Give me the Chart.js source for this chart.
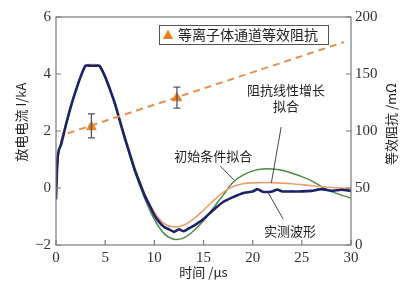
<!DOCTYPE html>
<html>
<head>
<meta charset="utf-8">
<script src="https://cdn.jsdelivr.net/npm/chart.js@4.4.1/dist/chart.umd.min.js"></script>
<style>
  html, body { margin: 0; padding: 0; background: #fff; }
  #wrap { width: 400px; height: 286px; }
</style>
</head>
<body>
<div id="wrap"><canvas id="arcChart" width="400" height="286"></canvas></div>
<script>
const tMeas = [0, 0.15, 0.3, 0.5, 1, 1.5, 2, 2.5, 3, 3.5, 4, 4.4, 5, 5.5, 6, 6.5, 7, 7.5, 8, 8.5, 9, 9.5, 10, 10.5, 11, 11.5, 12, 12.5, 13, 13.5, 14, 15, 16, 17, 18, 19, 20, 20.5, 21, 22, 22.5, 23, 24, 25, 26, 27, 28, 29, 30];
const iMeas = [-0.4, 1.0, 1.35, 1.5, 2.2, 2.85, 3.4, 3.9, 4.29, 4.29, 4.29, 4.29, 3.9, 3.45, 2.95, 2.35, 1.75, 1.2, 0.65, 0.2, -0.25, -0.6, -0.95, -1.2, -1.37, -1.45, -1.54, -1.45, -1.52, -1.42, -1.33, -1.09, -0.77, -0.49, -0.32, -0.18, -0.12, -0.04, -0.13, -0.12, -0.05, -0.12, -0.12, -0.12, -0.1, -0.04, -0.1, -0.06, -0.1];

// Fit mit linear wachsender Impedanz
const tLin = [0, 0.3, 1, 2, 3, 3.5, 4, 4.5, 5, 6, 7, 8, 9, 10, 11, 12, 13, 14, 15, 16, 17, 18, 19, 20, 22, 24, 26, 28, 30];
const iLin = [0, 1.3, 2.25, 3.42, 4.3, 4.33, 4.33, 4.28, 3.92, 2.98, 1.8, 0.68, -0.2, -0.85, -1.25, -1.37, -1.3, -1.08, -0.78, -0.45, -0.15, 0.05, 0.15, 0.18, 0.19, 0.15, 0.08, 0.02, -0.02];

// Fit mit Anfangsbedingungen
const tInit = [0, 0.3, 1, 2, 3, 3.5, 4, 4.5, 5, 6, 7, 8, 9, 10, 11, 12, 13, 14, 15, 16, 17, 18, 19, 20, 21, 22, 23, 24, 25, 26, 27, 28, 29, 30];
const iInit = [0, 1.3, 2.2, 3.4, 4.28, 4.3, 4.3, 4.25, 3.88, 2.92, 1.72, 0.58, -0.35, -1.1, -1.6, -1.8, -1.75, -1.5, -1.15, -0.7, -0.25, 0.2, 0.45, 0.6, 0.67, 0.67, 0.62, 0.52, 0.4, 0.25, 0.05, -0.12, -0.25, -0.35];

// Äquivalente Impedanz (rechte Achse, mΩ)
const tImp = [1.2, 29.3];
const rImp = [98, 178];
const tMark = [3.6, 12.3];
const rMark = [103.5, 129];
const rLow = [94, 120];
const rHigh = [115, 138.5];

const xTicks = [0, 5, 10, 15, 20, 25, 30];
const yTicks = [-2, 0, 2, 4, 6];
const y2Ticks = [0, 50, 100, 150, 200];

const serif = '"Liberation Serif", "DejaVu Serif", serif';
const cjk = '"Noto Sans CJK SC", "Noto Sans", sans-serif';
const frameColor = '#7a7a7a';

function pts(xs, ys) {
  return xs.map((x, i) => ({ x: x, y: ys[i] }));
}

// Rahmen, Ticks nach innen, Fehlerbalken, Legende, Beschriftungen
const decorPlugin = {
  id: 'decor',
  afterDatasetsDraw(chart) {
    const ctx = chart.ctx;
    const a = chart.chartArea;
    const sx = chart.scales.x, sy = chart.scales.y, sy2 = chart.scales.y2;

    ctx.save();
    // Fehlerbalken
    ctx.strokeStyle = '#4d5866';
    ctx.lineWidth = 1.3;
    tMark.forEach((t, i) => {
      const px = sx.getPixelForValue(t);
      const lo = sy2.getPixelForValue(rLow[i]);
      const hi = sy2.getPixelForValue(rHigh[i]);
      ctx.beginPath();
      ctx.moveTo(px, lo); ctx.lineTo(px, hi);
      ctx.moveTo(px - 3.5, lo); ctx.lineTo(px + 3.5, lo);
      ctx.moveTo(px - 3.5, hi); ctx.lineTo(px + 3.5, hi);
      ctx.stroke();
    });
    ctx.restore();
  },
  afterDraw(chart) {
    const ctx = chart.ctx;
    const a = chart.chartArea;
    const sx = chart.scales.x, sy = chart.scales.y, sy2 = chart.scales.y2;

    ctx.save();
    // Rahmen
    ctx.strokeStyle = frameColor;
    ctx.lineWidth = 1.2;
    ctx.strokeRect(a.left, a.top, a.right - a.left, a.bottom - a.top);

    // Ticks nach innen
    ctx.beginPath();
    xTicks.forEach(v => {
      const px = sx.getPixelForValue(v);
      ctx.moveTo(px, a.bottom); ctx.lineTo(px, a.bottom - 5);
    });
    yTicks.forEach(v => {
      const py = sy.getPixelForValue(v);
      ctx.moveTo(a.left, py); ctx.lineTo(a.left + 5, py);
    });
    y2Ticks.forEach(v => {
      const py = sy2.getPixelForValue(v);
      ctx.moveTo(a.right, py); ctx.lineTo(a.right - 5, py);
    });
    ctx.stroke();

    // Legende
    ctx.fillStyle = '#fff';
    ctx.fillRect(159, 25, 169, 19);
    ctx.strokeStyle = '#555';
    ctx.lineWidth = 1;
    ctx.strokeRect(159.5, 25.5, 169, 19);
    ctx.fillStyle = '#f07f1a';
    ctx.beginPath();
    ctx.moveTo(168, 29.5); ctx.lineTo(173, 39); ctx.lineTo(163, 39); ctx.closePath();
    ctx.fill();
    ctx.fillStyle = '#222';
    ctx.font = '14px ' + cjk;
    ctx.textAlign = 'left';
    ctx.textBaseline = 'middle';
    ctx.fillText('等离子体通道等效阻抗', 178, 35);

    // Beschriftungen mit Hinweislinien
    ctx.font = '13px ' + cjk;
    ctx.textAlign = 'center';
    ctx.fillText('阻抗线性增长', sx.getPixelForValue(23.4), sy.getPixelForValue(3.44));
    ctx.fillText('拟合', sx.getPixelForValue(23.4), sy.getPixelForValue(2.88));
    ctx.fillText('初始条件拟合', sx.getPixelForValue(16), sy.getPixelForValue(1.12));
    ctx.fillText('实测波形', sx.getPixelForValue(23.8), sy.getPixelForValue(-1.51));

    ctx.strokeStyle = '#333';
    ctx.lineWidth = 0.9;
    const leader = (t1, v1, t2, v2) => {
      ctx.beginPath();
      ctx.moveTo(sx.getPixelForValue(t1), sy.getPixelForValue(v1));
      ctx.lineTo(sx.getPixelForValue(t2), sy.getPixelForValue(v2));
      ctx.stroke();
    };
    leader(22.9, 2.14, 21.9, 0.18);
    leader(16.7, 0.77, 18.1, 0.28);
    leader(23.1, -1.09, 21.6, -0.18);

    // Achsentitel
    ctx.fillStyle = '#222';
    ctx.font = '13px ' + cjk;
    ctx.textBaseline = 'middle';
    ctx.save();
    ctx.translate(21, 122);
    ctx.rotate(-Math.PI / 2);
    ctx.fillText('放电电流 I/kA', 0, 0);
    ctx.restore();
    ctx.save();
    ctx.translate(391, 124);
    ctx.rotate(-Math.PI / 2);
    ctx.fillText('等效阻抗 /mΩ', 0, 0);
    ctx.restore();
    ctx.fillText('时间 /μs', (a.left + a.right) / 2, 272);

    ctx.restore();
  }
};

const ctx = document.getElementById('arcChart').getContext('2d');
new Chart(ctx, {
  type: 'line',
  data: {
    datasets: [
      {
        label: '初始条件拟合',
        data: pts(tInit, iInit),
        borderColor: '#4f8a4a',
        borderWidth: 1.5,
        pointRadius: 0,
        tension: 0.3,
        yAxisID: 'y',
        order: 4
      },
      {
        label: '阻抗线性增长拟合',
        data: pts(tLin, iLin),
        borderColor: '#eaa06e',
        borderWidth: 1.6,
        pointRadius: 0,
        tension: 0.3,
        yAxisID: 'y',
        order: 3
      },
      {
        label: '实测波形',
        data: pts(tMeas, iMeas),
        borderColor: '#1c2168',
        borderWidth: 2.6,
        pointRadius: 0,
        tension: 0.15,
        yAxisID: 'y',
        order: 2
      },
      {
        label: '等效阻抗',
        data: pts(tImp, rImp),
        borderColor: '#e39050',
        borderWidth: 2,
        borderDash: [7, 5],
        pointRadius: 0,
        yAxisID: 'y2',
        order: 1
      },
      {
        label: '等离子体通道等效阻抗',
        data: pts(tMark, rMark),
        showLine: false,
        pointStyle: 'triangle',
        pointRadius: 5.5,
        backgroundColor: '#f07f1a',
        borderColor: '#f07f1a',
        yAxisID: 'y2',
        order: 0
      }
    ]
  },
  options: {
    responsive: false,
    animation: false,
    layout: { padding: { top: 17 } },
    plugins: {
      legend: { display: false },
      tooltip: { enabled: false }
    },
    scales: {
      x: {
        type: 'linear',
        min: 0,
        max: 30,
        afterBuildTicks: s => { s.ticks = xTicks.map(v => ({ value: v })); },
        grid: { display: false, drawTicks: false },
        border: { display: false },
        ticks: { color: '#333', font: { family: serif, size: 15 }, padding: 4, maxRotation: 0 },
        afterFit: s => { s.height = 41; }
      },
      y: {
        type: 'linear',
        position: 'left',
        min: -2,
        max: 6,
        afterBuildTicks: s => { s.ticks = yTicks.map(v => ({ value: v })); },
        grid: { display: false, drawTicks: false },
        border: { display: false },
        ticks: {
          color: '#333', font: { family: serif, size: 15 }, padding: 5,
          callback: v => v < 0 ? '\u2212' + Math.abs(v) : String(v)
        },
        afterFit: s => { s.width = 56; }
      },
      y2: {
        type: 'linear',
        position: 'right',
        min: 0,
        max: 200,
        afterBuildTicks: s => { s.ticks = y2Ticks.map(v => ({ value: v })); },
        grid: { display: false, drawTicks: false },
        border: { display: false },
        ticks: { color: '#333', font: { family: serif, size: 15 }, padding: 4 },
        afterFit: s => { s.width = 49; }
      }
    }
  },
  plugins: [decorPlugin]
});
</script>
</body>
</html>
